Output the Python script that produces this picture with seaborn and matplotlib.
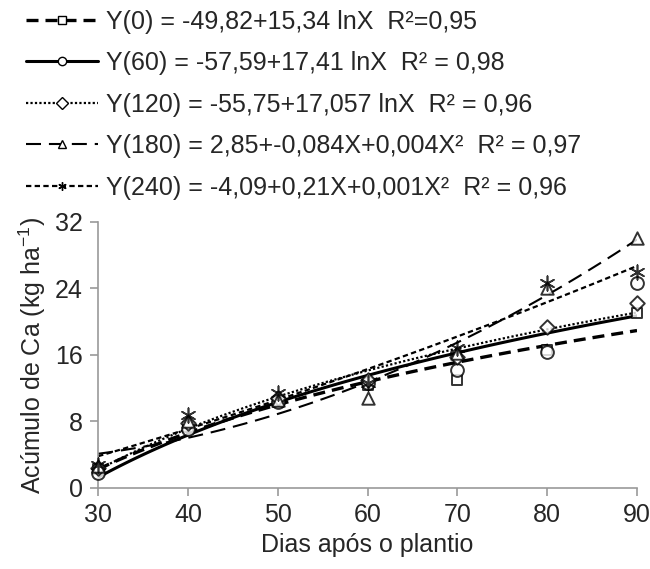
import numpy as np
import matplotlib
matplotlib.use("Agg")
import matplotlib.pyplot as plt
import seaborn as sns
from matplotlib.lines import Line2D

# days after planting and Ca accumulation for each treatment
dias = [30, 40, 50, 60, 70, 80, 90]
ca_0 = [2.3, 7.3, 10.3, 12.4, 13.0, 16.6, 21.0]
ca_60 = [1.8, 7.1, 10.3, 12.6, 14.2, 16.4, 24.7]
ca_120 = [2.4, 7.8, 10.8, 13.0, 15.8, 19.4, 22.2]
ca_180 = [2.6, 8.0, 10.6, 10.8, 16.2, 24.1, 30.1]
ca_240 = [2.8, 8.8, 11.4, 12.6, 16.8, 24.7, 26.0]

labels = [
    "Y(0) = -49,82+15,34 lnX  R²=0,95",
    "Y(60) = -57,59+17,41 lnX  R² = 0,98",
    "Y(120) = -55,75+17,057 lnX  R² = 0,96",
    "Y(180) = 2,85+-0,084X+0,004X²  R² = 0,97",
    "Y(240) = -4,09+0,21X+0,001X²  R² = 0,96",
]

sns.set_style("white")
plt.rcParams["font.family"] = ["Liberation Sans", "DejaVu Sans"]
FS = 18

fig = plt.figure(figsize=(6.5, 5.69), dpi=100)
ax = fig.add_axes([0.151, 0.1424, 0.829, 0.4675])

star = (6, 2, 0)
series = [
    (ca_0, "s", dict(logx=True), (0, (3.6, 2.1)), 2.4, 60),
    (ca_60, "o", dict(logx=True), "-", 2.2, 85),
    (ca_120, "D", dict(logx=True), (0, (1, 1)), 1.6, 55),
    (ca_180, "^", dict(order=2), (0, (7.2, 3.8)), 1.5, 80),
    (ca_240, star, dict(order=2), (0, (2.4, 1.5)), 1.6, 110),
]

handles = []
for vals, mk, fit, ls, lw, size in series:
    if mk == star:
        skw = dict(color="black", linewidths=1.2, s=size, zorder=3,
                   clip_on=False)
    else:
        skw = dict(facecolor="white", edgecolor="black", linewidths=1.4,
                   s=size, zorder=3, clip_on=False)
    sns.regplot(x=dias, y=vals, ci=None, marker=mk, ax=ax,
                scatter_kws=skw,
                line_kws=dict(color="black", ls=ls, lw=lw, zorder=2),
                **fit)
    handles.append(Line2D([], [], color="black", ls=ls, lw=lw, marker=mk,
                          markersize=6, markerfacecolor="white",
                          markeredgecolor="black", markeredgewidth=1))

ax.set_xlim(30, 90)
ax.set_ylim(0, 32)
ax.set_xticks(range(30, 91, 10))
ax.set_yticks([0, 8, 16, 24, 32])
for s in ["top", "right"]:
    ax.spines[s].set_visible(False)
for s in ["left", "bottom"]:
    ax.spines[s].set_color("#999999")
    ax.spines[s].set_linewidth(1.2)
ax.tick_params(axis="both", direction="out", length=6, width=1.2,
               color="#999999", labelsize=FS, pad=5, left=True, bottom=True)
ax.set_xlabel("Dias após o plantio", fontsize=FS, labelpad=4)
ax.set_ylabel("Acúmulo de Ca (kg ha$^{\\mathregular{-1}}$)", fontsize=FS,
              labelpad=5)

fig.legend(handles, labels, loc="upper left", bbox_to_anchor=(0.04, 0.983),
           frameon=False, fontsize=FS, handlelength=2.9, handletextpad=0.3,
           labelspacing=0.7, borderaxespad=0, borderpad=0)

fig.savefig("out.png", dpi=100)
